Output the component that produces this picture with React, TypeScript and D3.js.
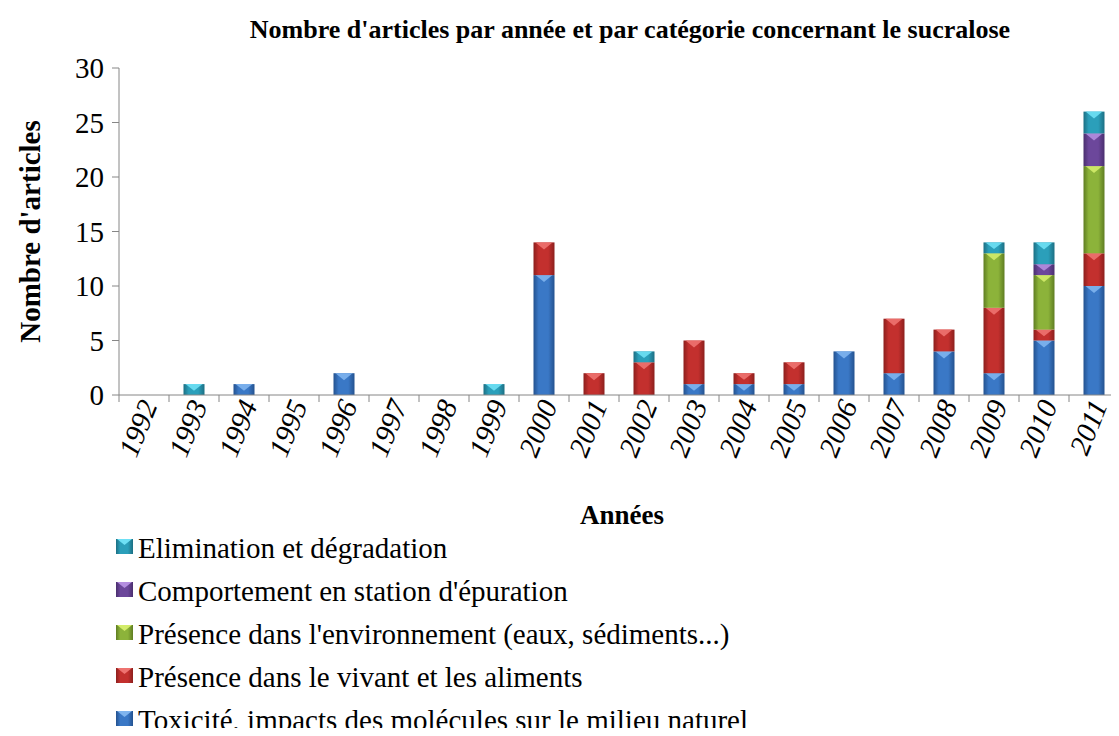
import * as d3 from 'd3'

const W = 1119, H = 736
const M = { left: 119, right: 0, top: 68, bottom: 341 }

const years = ['1992', '1993', '1994', '1995', '1996', '1997', '1998', '1999', '2000', '2001',
  '2002', '2003', '2004', '2005', '2006', '2007', '2008', '2009', '2010', '2011']

// one value per year, bottom to top of the stack
const toxicite = [0, 0, 1, 0, 2, 0, 0, 0, 11, 0, 0, 1, 1, 1, 4, 2, 4, 2, 5, 10]
const vivant = [0, 0, 0, 0, 0, 0, 0, 0, 3, 2, 3, 4, 1, 2, 0, 5, 2, 6, 1, 3]
const environnement = [0, 0, 0, 0, 0, 0, 0, 0, 0, 0, 0, 0, 0, 0, 0, 0, 0, 5, 5, 8]
const station = [0, 0, 0, 0, 0, 0, 0, 0, 0, 0, 0, 0, 0, 0, 0, 0, 0, 0, 1, 3]
const elimination = [0, 1, 0, 0, 0, 0, 0, 1, 0, 0, 1, 0, 0, 0, 0, 0, 0, 1, 2, 2]

const yTicks = [0, 5, 10, 15, 20, 25, 30]

const series = [
  { key: 'tox', label: 'Toxicité, impacts des molécules sur le milieu naturel', values: toxicite, color: '#3a78c6', light: '#7fb4ee', dark: '#24528f' },
  { key: 'viv', label: 'Présence dans le vivant et les aliments', values: vivant, color: '#c3302e', light: '#ee7370', dark: '#8c1f1d' },
  { key: 'env', label: "Présence dans l'environnement (eaux, sédiments...)", values: environnement, color: '#8cb33a', light: '#d3ec6a', dark: '#5f7d22' },
  { key: 'sta', label: "Comportement en station d'épuration", values: station, color: '#6c479b', light: '#b48ee0', dark: '#4a2f6e' },
  { key: 'eli', label: 'Elimination et dégradation', values: elimination, color: '#2b9fba', light: '#6ee0f5', dark: '#1c6f83' },
]

const FONT = 'serif'
const AXIS = '#868686'

const xAxisScale = d3.scaleBand<string>().domain(years).range([M.left, W - M.right])
const x = d3.scaleBand<string>().domain(years).range([M.left, W - M.right]).paddingInner(0.58).paddingOuter(0.29)
const y = d3.scaleLinear().domain([0, 30]).range([H - M.bottom, M.top])

const stack = d3.stack<number>().keys(series.map((_, i) => String(i)))
  .value((i, k) => series[+k].values[i])(years.map((_, i) => i))

export default function App() {
  const barW = x.bandwidth()
  const y0 = y(0)
  return (
    <svg width={W} height={H} viewBox={`0 0 ${W} ${H}`}
      style={{ display: 'block', margin: '-8px', background: '#fff' }}>
      <defs>
        {series.map(s => (
          <linearGradient key={s.key} id={'g-' + s.key} x1={0} x2={1} y1={0} y2={0}>
            <stop offset="0%" stopColor={s.dark} />
            <stop offset="25%" stopColor={s.color} />
            <stop offset="70%" stopColor={s.color} />
            <stop offset="100%" stopColor={s.dark} />
          </linearGradient>
        ))}
      </defs>

      <text x={630} y={38} textAnchor="middle" fontWeight="bold" fontSize={26} fontFamily={FONT}>
        Nombre d'articles par année et par catégorie concernant le sucralose
      </text>

      {/* y axis */}
      <line x1={M.left} x2={M.left} y1={y(30)} y2={y0} stroke={AXIS} />
      {yTicks.map(t => (
        <g key={t}>
          <line x1={M.left - 7} x2={M.left} y1={y(t)} y2={y(t)} stroke={AXIS} />
          <text x={M.left - 15} y={y(t) + 10} textAnchor="end" fontSize={29} fontFamily={FONT}>{t}</text>
        </g>
      ))}
      <text transform={`translate(40,${(y(0) + y(30)) / 2}) rotate(-90)`} textAnchor="middle"
        fontWeight="bold" fontSize={29} fontFamily={FONT}>Nombre d'articles</text>

      {/* stacked bars */}
      {stack.map((layer, si) => {
        const s = series[si]
        return layer.map((d, i) => {
          if (d[1] - d[0] <= 0) return null
          const x0 = x(years[i])!
          const yTop = y(d[1]), yBot = y(d[0])
          const th = Math.min(7, (yBot - yTop) * 0.6)
          return (
            <g key={s.key + i}>
              <rect x={x0} y={yTop} width={barW} height={yBot - yTop} fill={`url(#g-${s.key})`} />
              <path d={`M${x0 + 2},${yTop} L${x0 + barW - 2},${yTop} L${x0 + barW / 2},${yTop + th} Z`}
                fill={s.light} opacity={0.9} />
            </g>
          )
        })
      })}

      {/* x axis */}
      <line x1={M.left} x2={W} y1={y0} y2={y0} stroke={AXIS} />
      {d3.range(years.length + 1).map(i => {
        const xt = M.left + i * xAxisScale.step()
        return <line key={i} x1={xt} x2={xt} y1={y0} y2={y0 + 7} stroke={AXIS} />
      })}
      {years.map(yr => {
        const cx = xAxisScale(yr)! + xAxisScale.bandwidth() / 2
        return (
          <text key={yr} transform={`translate(${cx + 14},${y0 + 10}) rotate(-68)`} textAnchor="end"
            fontStyle="italic" fontSize={29} fontFamily={FONT}>{yr}</text>
        )
      })}

      <text x={622} y={524} textAnchor="middle" fontWeight="bold" fontSize={27} fontFamily={FONT}>Années</text>

      {/* legend, reverse order */}
      {series.slice().reverse().map((s, i) => {
        const ly = 548 + i * 43
        return (
          <g key={s.key}>
            <rect x={116} y={ly - 9} width={17} height={15} fill={`url(#g-${s.key})`} />
            <path d={`M117,${ly - 9} L132,${ly - 9} L124.5,${ly - 3} Z`} fill={s.light} />
            <text x={138} y={ly + 10} fontSize={29} fontFamily={FONT}>{s.label}</text>
          </g>
        )
      })}
    </svg>
  )
}
